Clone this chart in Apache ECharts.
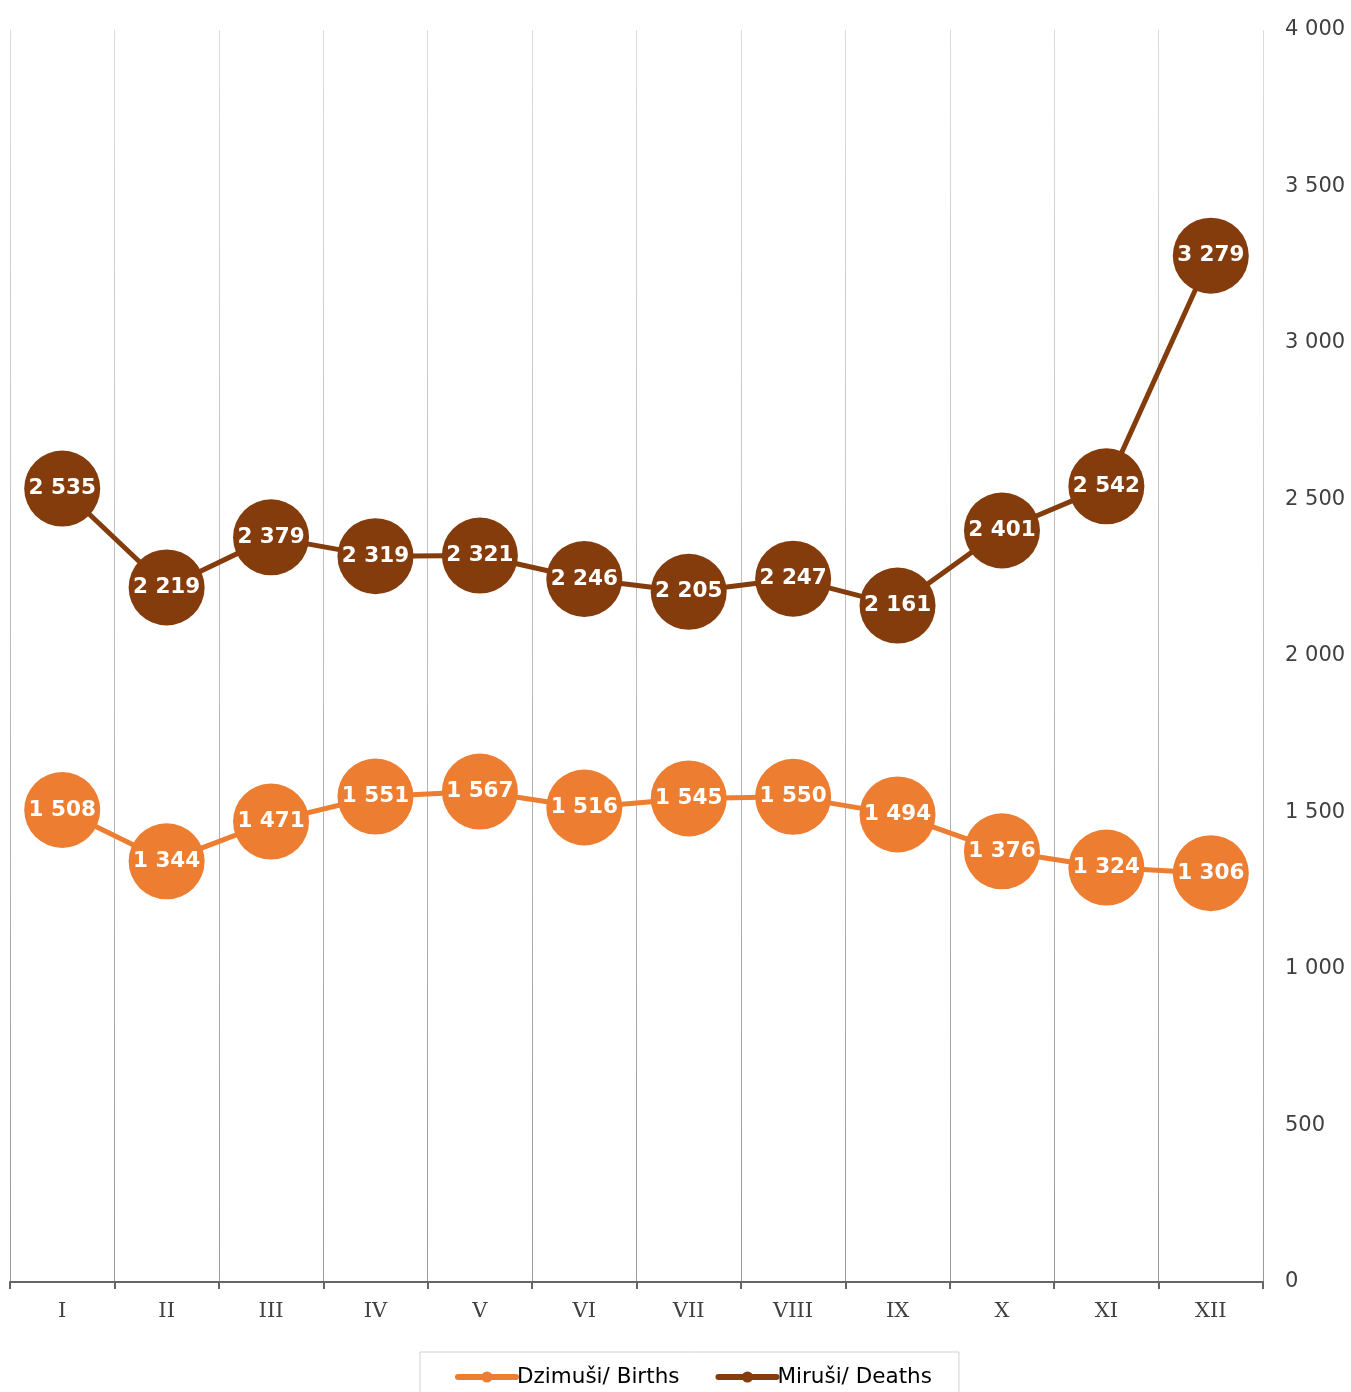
<!DOCTYPE html>
<html><head><meta charset="utf-8">
<script src="https://cdn.jsdelivr.net/npm/echarts@6/dist/echarts.min.js"></script>
<style>html,body{margin:0;padding:0;background:#fff}#c{width:1351px;height:1392px}</style>
</head><body><div id="c"></div>
<script>
const months = ['I','II','III','IV','V','VI','VII','VIII','IX','X','XI','XII'];
const births = [1508,1344,1471,1551,1567,1516,1545,1550,1494,1376,1324,1306];
const deaths = [2535,2219,2379,2319,2321,2246,2205,2247,2161,2401,2542,3279];
const seriesNames = ['Dzimuši/ Births','Miruši/ Deaths'];
const colors = ['#ED7D31','#843C0C'];
const fmt = v => String(v).replace(/\B(?=(\d{3})+(?!\d))/g,' ');
const chart = echarts.init(document.getElementById('c'));
const mk = (name, data, color) => ({
  name, type:'line', data, color,
  symbol:'circle', symbolSize:76,
  lineStyle:{width:5,color},
  itemStyle:{color},
  label:{show:true,position:'inside',color:'#fff',fontFamily:'DejaVu Sans',fontWeight:'bold',fontSize:21.5,
    formatter:p=>fmt(p.value)},
  z: name===seriesNames[0]?3:2
});
chart.setOption({
  animation:false,
  grid:{left:10,right:88,top:30,bottom:110,containLabel:false},
  legend:{
    top:1352, left:420,
    borderColor:'#d0d0d0', borderWidth:1,
    padding:[14,27,30,35], itemGap:36, itemWidth:58, itemHeight:14,
    lineStyle:{width:6,cap:'round'},
    textStyle:{fontFamily:'DejaVu Sans',fontSize:21.5,color:'#000',padding:[0,0,0,-4]},
    data:seriesNames
  },
  xAxis:{type:'category',data:months,boundaryGap:true,
    axisLine:{lineStyle:{color:'#666',width:2}},
    axisTick:{show:true,length:7,lineStyle:{color:'#666',width:2}},
    axisLabel:{fontFamily:'DejaVu Serif',fontSize:21,color:'#404040',margin:19},
    splitLine:{show:true,lineStyle:{color:new echarts.graphic.LinearGradient(0,0,0,1,[{offset:0,color:'#dcdcdc'},{offset:1,color:'#999'}]),width:1}}
  },
  yAxis:{type:'value',position:'right',min:0,max:4000,interval:500,
    axisLine:{show:false},axisTick:{show:false},splitLine:{show:false},
    axisLabel:{fontFamily:'DejaVu Sans',fontSize:21,color:'#404040',margin:22,formatter:v=>fmt(v)}
  },
  series:[mk(seriesNames[0],births,colors[0]),mk(seriesNames[1],deaths,colors[1])]
});
</script></body></html>
